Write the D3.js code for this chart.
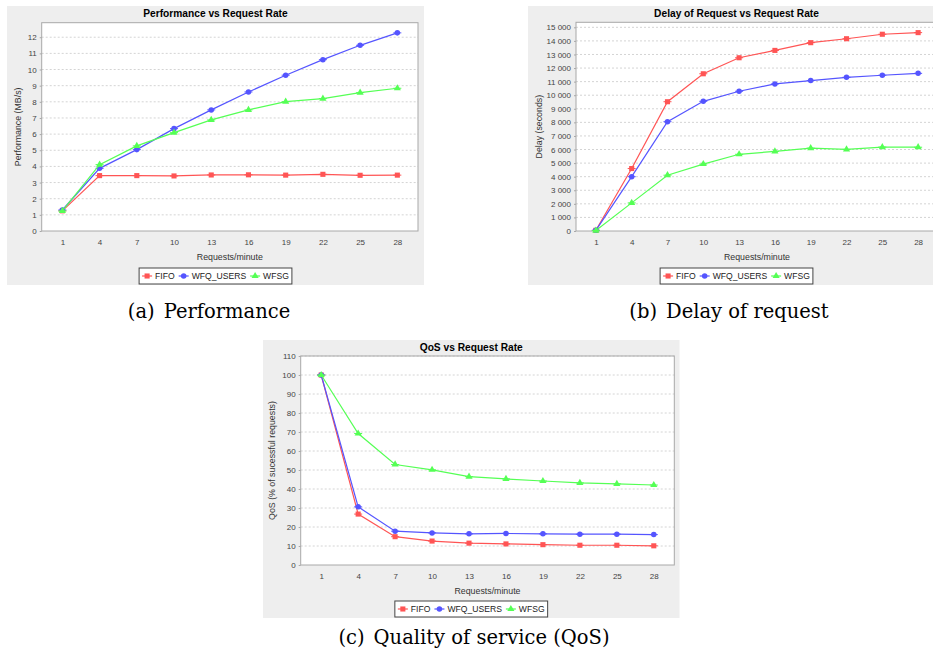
<!DOCTYPE html>
<html lang="en">
<head>
<meta charset="UTF-8">
<title>Request Rate | D3</title>
<style>
  body { margin: 0; background: #ffffff; }
  svg text { font-family: "Liberation Sans", Arial, sans-serif; fill: #333333; }
  svg text.caption { font-family: "DejaVu Serif", serif; fill: #000000; }
</style>
</head>
<body>
<div id="container"></div>
<script src="https://d3js.org/d3.v7.min.js"></script>
<script>
// request rates (category axis shared by all three charts)
var rates = ["1", "4", "7", "10", "13", "16", "19", "22", "25", "28"];
var seriesNames = ["FIFO", "WFQ_USERS", "WFSG"];
var seriesColors = ["#ff5555", "#5555ff", "#55ff55"];

// (a) performance, MB/s
var perfFifo = [1.25, 3.43, 3.43, 3.41, 3.47, 3.48, 3.46, 3.51, 3.45, 3.46];
var perfWfq  = [1.30, 3.88, 5.04, 6.34, 7.50, 8.61, 9.65, 10.61, 11.50, 12.27];
var perfWfsg = [1.24, 4.11, 5.27, 6.09, 6.88, 7.50, 8.01, 8.20, 8.57, 8.84];
var perfTicks = [0, 1, 2, 3, 4, 5, 6, 7, 8, 9, 10, 11, 12];

// (b) delay, seconds
var delayFifo = [50, 4600, 9520, 11580, 12760, 13300, 13870, 14160, 14490, 14610];
var delayWfq  = [50, 4000, 8050, 9550, 10290, 10830, 11080, 11320, 11470, 11610];
var delayWfsg = [30, 2070, 4110, 4930, 5650, 5860, 6100, 6010, 6180, 6170];
var delayTicks = [0, 1000, 2000, 3000, 4000, 5000, 6000, 7000, 8000, 9000, 10000,
                  11000, 12000, 13000, 14000, 15000];

// (c) QoS, % of successful requests
var qosFifo = [100, 26.8, 14.9, 12.6, 11.5, 11.1, 10.7, 10.4, 10.4, 10.1];
var qosWfq  = [100, 30.6, 17.8, 16.9, 16.4, 16.6, 16.4, 16.2, 16.2, 16.0];
var qosWfsg = [100, 69.2, 52.9, 50.1, 46.5, 45.3, 44.2, 43.2, 42.7, 42.1];
var qosTicks = [0, 10, 20, 30, 40, 50, 60, 70, 80, 90, 100, 110];

var svg = d3.select("#container")
    .append("svg")
    .attr("width", 933)
    .attr("height", 659);

var spaceFormat = d3.formatLocale({ decimal: ".", thousands: "\u00a0", grouping: [3], currency: ["", ""] }).format(",d");
var symbols = [d3.symbolSquare, d3.symbolCircle, d3.symbolTriangle];
var symbolSizes = [26, 24, 22];

function drawChart(opt) {
    var g = svg.append("g");
    var p = opt.plot;

    // panel background
    g.append("rect")
        .attr("x", opt.panel[0]).attr("y", opt.panel[1])
        .attr("width", opt.panel[2]).attr("height", opt.panel[3])
        .attr("fill", "#eeeeee");

    var cx = opt.panel[0] + opt.panel[2] / 2;

    g.append("text")
        .attr("x", cx).attr("y", opt.panel[1] + 11)
        .attr("text-anchor", "middle")
        .attr("font-size", 10.2).attr("font-weight", "bold")
        .style("fill", "#000")
        .text(opt.title);

    var x = d3.scalePoint().domain(rates).range([p.left, p.right]).padding(0.555);
    var y = d3.scaleLinear().domain([0, opt.yMax]).range([p.bottom, p.top]);

    g.append("rect")
        .attr("x", p.left).attr("y", p.top)
        .attr("width", p.right - p.left).attr("height", p.bottom - p.top)
        .attr("fill", "#ffffff");

    // horizontal grid lines
    g.append("g").selectAll("line")
        .data(opt.ticks.filter(function(t) { return t > 0; }))
        .enter().append("line")
        .attr("x1", p.left).attr("x2", p.right)
        .attr("y1", function(d) { return y(d); })
        .attr("y2", function(d) { return y(d); })
        .attr("stroke", "#d4d4d4")
        .attr("stroke-dasharray", "2,2");

    // outline
    g.append("rect")
        .attr("x", p.left).attr("y", p.top)
        .attr("width", p.right - p.left).attr("height", p.bottom - p.top)
        .attr("fill", "none")
        .attr("stroke", "#a8a8a8");

    var yAxis = g.append("g")
        .attr("transform", "translate(" + p.left + ",0)")
        .call(d3.axisLeft(y).tickValues(opt.ticks).tickSize(2).tickPadding(3).tickFormat(opt.fmt));
    yAxis.select(".domain").remove();
    yAxis.selectAll(".tick line").attr("stroke", "#a8a8a8");
    yAxis.selectAll(".tick text")
        .attr("font-size", 8).attr("font-family", null).style("fill", "#444");

    var xAxis = g.append("g")
        .attr("transform", "translate(0," + p.bottom + ")")
        .call(d3.axisBottom(x).tickSize(0).tickPadding(8));
    xAxis.select(".domain").remove();
    xAxis.selectAll(".tick text")
        .attr("font-size", 8).attr("font-family", null).style("fill", "#444");

    g.append("text")
        .attr("x", (p.left + p.right) / 2).attr("y", p.bottom + 29)
        .attr("text-anchor", "middle").attr("font-size", 8.8)
        .text("Requests/minute");

    g.append("text")
        .attr("transform", "translate(" + (opt.panel[0] + opt.yLabelDx) + "," + ((p.top + p.bottom) / 2) + ") rotate(-90)")
        .attr("text-anchor", "middle").attr("font-size", 8.8)
        .text(opt.yLabel);

    // series
    var line = d3.line()
        .x(function(d, i) { return x(rates[i]); })
        .y(function(d) { return y(d); });

    opt.series.forEach(function(vals, s) {
        g.append("path")
            .datum(vals)
            .attr("d", line)
            .attr("fill", "none")
            .attr("stroke", seriesColors[s])
            .attr("stroke-width", 1.2);
        var pts = g.append("g").selectAll("g")
            .data(vals).enter().append("g")
            .attr("transform", function(d, i) { return "translate(" + x(rates[i]) + "," + y(d) + ")"; });
        pts.append("path")
            .attr("d", d3.symbol().type(symbols[s]).size(symbolSizes[s]))
            .attr("fill", seriesColors[s]);
        pts.append("line")
            .attr("x1", -4).attr("x2", 4)
            .attr("stroke", seriesColors[s]).attr("stroke-width", 1);
    });

    // legend
    var lg = g.append("g");
    var box = lg.append("rect")
        .attr("fill", "#ffffff").attr("stroke", "#444").attr("stroke-width", 1);
    var lx = 3;
    seriesNames.forEach(function(name, s) {
        lg.append("line")
            .attr("x1", lx).attr("x2", lx + 10).attr("y1", 8).attr("y2", 8)
            .attr("stroke", seriesColors[s]).attr("stroke-width", 1.2);
        lg.append("path")
            .attr("transform", "translate(" + (lx + 5) + ",8)")
            .attr("d", d3.symbol().type(symbols[s]).size(symbolSizes[s]))
            .attr("fill", seriesColors[s]);
        var t = lg.append("text")
            .attr("x", lx + 13).attr("y", 11)
            .attr("font-size", 8.6).style("fill", "#222")
            .text(name);
        lx += 13 + t.node().getComputedTextLength() + 4;
    });
    var lw = lx - 1;
    box.attr("x", 0).attr("y", 0).attr("width", lw).attr("height", 16);
    lg.attr("transform", "translate(" + (cx - lw / 2) + "," + (opt.panel[1] + opt.panel[3] - 17) + ")");

    // caption under the panel
    var cap = svg.append("text")
        .attr("class", "caption")
        .attr("x", opt.capX).attr("y", opt.capY)
        .attr("text-anchor", "middle")
        .attr("font-size", 19.5);
    cap.append("tspan").text(opt.capTag);
    cap.append("tspan").attr("dx", 9).text(opt.caption);
}

drawChart({
    panel: [7, 6, 417, 279],
    plot: { left: 41.7, right: 418, top: 22.7, bottom: 231 },
    yMax: 12.9, ticks: perfTicks, fmt: d3.format("d"),
    title: "Performance vs Request Rate",
    yLabel: "Performance (MB/s)", yLabelDx: 14,
    series: [perfFifo, perfWfq, perfWfsg],
    capX: 209, capY: 318, capTag: "(a)", caption: "Performance"
});

drawChart({
    panel: [528, 6, 417, 279],
    plot: { left: 576, right: 938, top: 22.3, bottom: 231 },
    yMax: 15370, ticks: delayTicks, fmt: spaceFormat,
    title: "Delay of Request vs Request Rate",
    yLabel: "Delay (seconds)", yLabelDx: 14,
    series: [delayFifo, delayWfq, delayWfsg],
    capX: 729, capY: 318, capTag: "(b)", caption: "Delay of request"
});

drawChart({
    panel: [263, 340, 416.5, 278],
    plot: { left: 300.7, right: 674.3, top: 356, bottom: 565 },
    yMax: 110, ticks: qosTicks, fmt: d3.format("d"),
    title: "QoS vs Request Rate",
    yLabel: "QoS (% of sucessful requests)", yLabelDx: 12,
    series: [qosFifo, qosWfq, qosWfsg],
    capX: 474, capY: 644, capTag: "(c)", caption: "Quality of service (QoS)"
});
</script>
</body>
</html>
